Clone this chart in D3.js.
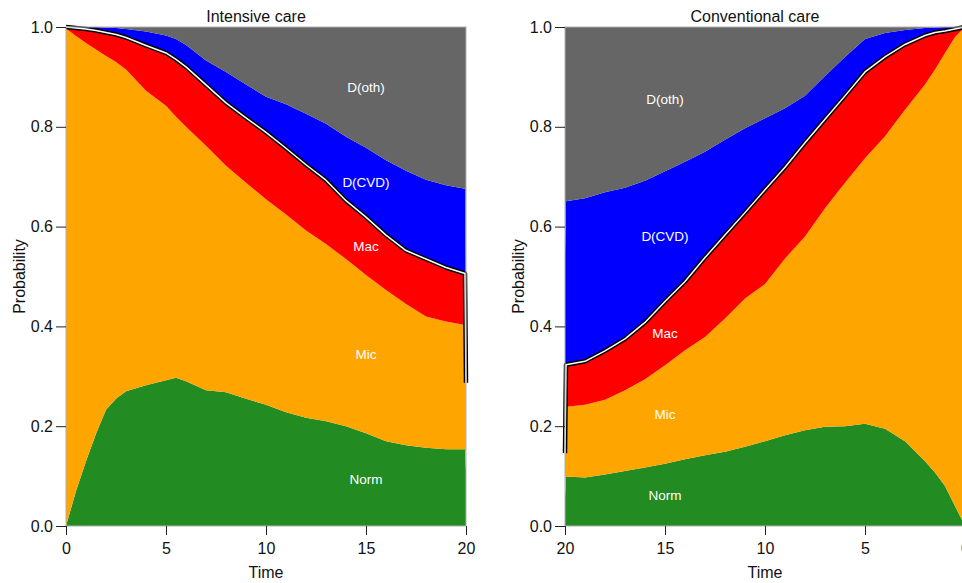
<!DOCTYPE html>
<html>
<head>
<meta charset="utf-8">
<script src="https://cdn.jsdelivr.net/npm/d3@7"></script>
<style>
body { margin: 0; background: #fff; }
svg { font-family: "Liberation Sans", Arial, sans-serif; }
</style>
</head>
<body>
<svg width="962" height="583"></svg>
<script>
// states, bottom to top
var states = ["Norm", "Mic", "Mac", "D(CVD)", "D(oth)"];
var colours = ["#228B22", "#FFA500", "#FF0000", "#0000FF", "#666666"];
var xTicks = [0, 5, 10, 15, 20];
var yTicks = [0, 0.2, 0.4, 0.6, 0.8, 1.0];
var labelTime = 15;

// intensive care
var intTime = [0, 0.5, 1, 1.5, 2, 2.5, 3, 4, 5, 5.5, 6, 7, 8, 9, 10, 11, 12, 13, 14, 15, 16, 17, 18, 19, 19.95, 20];
var intNorm = [0, .07, .13, .185, .233, .255, .27, .282, .292, .297, .29, .272, .268, .255, .243, .228, .217, .21, .2, .186, .17, .162, .157, .154, .154, .11];
var intMic  = [.997, .912, .838, .77, .709, .675, .645, .59, .55, .523, .51, .49, .454, .433, .412, .396, .375, .355, .335, .317, .303, .283, .263, .256, .249, .17];
var intMac  = [.003, .016, .028, .038, .047, .055, .064, .091, .106, .115, .12, .122, .126, .13, .134, .133, .132, .128, .117, .116, .11, .107, .115, .108, .103, .007];
var intCvd  = [0, .002, .004, .007, .010, .013, .017, .028, .035, .041, .044, .049, .062, .067, .071, .088, .102, .113, .128, .139, .15, .16, .159, .165, .17, .163];
var intOth  = [0, 0, 0, 0, .001, .002, .004, .009, .017, .024, .036, .067, .09, .115, .14, .155, .174, .194, .22, .242, .267, .288, .306, .317, .324, .55];

// conventional care
var conTime = [0, 0.5, 1, 1.5, 2, 3, 4, 5, 6, 7, 8, 9, 10, 11, 12, 13, 14, 15, 16, 17, 18, 19, 19.95, 20];
var conNorm = [0, .04, .08, .107, .13, .17, .195, .205, .2, .199, .192, .182, .17, .159, .149, .142, .134, .125, .117, .11, .103, .097, .099, .055];
var conMic  = [1, .94, .868, .808, .755, .664, .586, .532, .488, .438, .388, .354, .315, .297, .267, .237, .218, .197, .177, .162, .15, .146, .14, .085];
var conMac  = [0, .016, .044, .074, .098, .131, .159, .173, .174, .178, .188, .183, .189, .172, .167, .159, .138, .128, .114, .103, .098, .087, .084, .006];
var conCvd  = [0, .004, .008, .010, .015, .029, .048, .066, .078, .087, .094, .118, .143, .169, .191, .212, .24, .261, .284, .303, .318, .327, .328, .404];
var conOth  = [0, 0, 0, .001, .002, .006, .012, .024, .06, .098, .138, .163, .183, .203, .226, .25, .27, .289, .308, .322, .331, .343, .349, .45];

var svg = d3.select("svg");
var top0 = 27, plotH = 499, plotW = 400;

function rows(time, series) {
  return time.map(function(t, i) {
    var r = {t: t};
    states.forEach(function(s, k) { r[s] = series[k][i]; });
    return r;
  });
}

function panel(left, title, domain, time, series) {
  var g = svg.append("g").attr("transform", "translate(" + left + "," + top0 + ")");
  var x = d3.scaleLinear().domain(domain).range([0, plotW]);
  var y = d3.scaleLinear().domain([0, 1]).range([plotH, 0]);

  var stacked = d3.stack().keys(states)(rows(time, series));

  var area = d3.area()
    .x(function(d) { return x(d.data.t); })
    .y0(function(d) { return y(d[0]); })
    .y1(function(d) { return y(d[1]); });

  g.selectAll("path.layer")
    .data(stacked)
    .enter().append("path")
      .attr("class", "layer")
      .attr("fill", function(d, i) { return colours[i]; })
      .attr("d", area);

  // alive / dead boundary
  var alive = d3.line()
    .x(function(d) { return x(d.data.t); })
    .y(function(d) { return y(d[1]); });
  g.append("path").datum(stacked[2]).attr("d", alive)
    .attr("fill", "none").attr("stroke", "#000").attr("stroke-width", 4.5)
    .attr("stroke-linejoin", "round");
  g.append("path").datum(stacked[2]).attr("d", alive)
    .attr("fill", "none").attr("stroke", "#fff").attr("stroke-width", 1.5)
    .attr("stroke-linejoin", "round");

  g.append("rect")
    .attr("width", plotW).attr("height", plotH)
    .attr("fill", "none").attr("stroke", "#b0b0b0");

  // state labels, middle of each band
  var li = time.indexOf(labelTime);
  g.selectAll("text.lab")
    .data(stacked)
    .enter().append("text")
      .attr("class", "lab")
      .attr("x", x(labelTime))
      .attr("y", function(d) { return y((d[li][0] + d[li][1]) / 2); })
      .attr("dy", "0.35em")
      .attr("text-anchor", "middle")
      .attr("fill", "#fff")
      .attr("font-size", "13.5px")
      .text(function(d) { return d.key; });

  var yAxis = g.append("g")
    .call(d3.axisLeft(y).tickValues(yTicks).tickFormat(d3.format(".1f")).tickSize(10).tickPadding(3));
  var xAxis = g.append("g").attr("transform", "translate(0," + plotH + ")")
    .call(d3.axisBottom(x).tickValues(xTicks).tickSize(9).tickPadding(8));
  [yAxis, xAxis].forEach(function(a) {
    a.select(".domain").remove();
    a.selectAll("line").attr("stroke", "#222");
    a.selectAll("text").attr("font-size", "16px").attr("fill", "#111")
      .attr("font-family", "Liberation Sans, Arial, sans-serif");
  });

  g.append("text")
    .attr("x", plotW / 2 - 10).attr("y", -5)
    .attr("text-anchor", "middle").attr("font-size", "16px").attr("fill", "#111")
    .text(title);
  g.append("text")
    .attr("x", plotW / 2).attr("y", plotH + 52)
    .attr("text-anchor", "middle").attr("font-size", "16px").attr("fill", "#111")
    .text("Time");
  g.append("text")
    .attr("transform", "translate(-41," + (plotH / 2) + ") rotate(-90)")
    .attr("text-anchor", "middle").attr("font-size", "16px").attr("fill", "#111")
    .text("Probability");
}

panel(66, "Intensive care", [0, 20], intTime, [intNorm, intMic, intMac, intCvd, intOth]);
panel(565, "Conventional care", [20, 0], conTime, [conNorm, conMic, conMac, conCvd, conOth]);
</script>
</body>
</html>
